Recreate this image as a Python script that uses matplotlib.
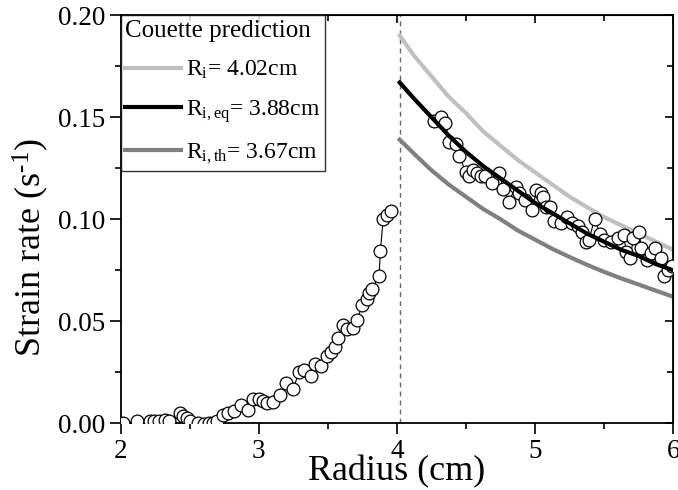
import matplotlib
matplotlib.use("Agg")
import matplotlib.pyplot as plt
from matplotlib.ticker import MultipleLocator

plt.rcParams["font.family"] = ["Liberation Serif", "DejaVu Serif"]
plt.rcParams["mathtext.fontset"] = "custom"
plt.rcParams["mathtext.rm"] = "Liberation Serif"
plt.rcParams["mathtext.it"] = "Liberation Serif:italic"

# measured strain rate, inner region (r < Ri)
r_in = [2.02, 2.12, 2.21, 2.24, 2.28, 2.32, 2.35, 2.43, 2.45, 2.48, 2.50,
        2.56, 2.60, 2.64, 2.67, 2.70, 2.74, 2.78, 2.82, 2.87, 2.92, 2.96,
        3.00, 3.03, 3.06, 3.10, 3.15, 3.20, 3.25, 3.29, 3.33, 3.38, 3.41,
        3.45, 3.49, 3.52, 3.55, 3.57, 3.61, 3.64, 3.68, 3.71, 3.75, 3.78,
        3.80, 3.82, 3.87, 3.88, 3.90, 3.93, 3.96]
g_in = [0.000, 0.0013, 0.001, 0.001, 0.0012, 0.0017, 0.0013, 0.005, 0.0037,
        0.0025, 0.0013, 0.000, -0.0005, 0.000, 0.000, 0.001, 0.004, 0.005,
        0.006, 0.009, 0.0065, 0.012, 0.012, 0.011, 0.010, 0.0106, 0.014,
        0.0196, 0.017, 0.025, 0.026, 0.023, 0.029, 0.028, 0.033, 0.035,
        0.0375, 0.042, 0.048, 0.046, 0.0466, 0.0506, 0.058, 0.061, 0.064,
        0.066, 0.072, 0.0846, 0.100, 0.102, 0.104]

# measured strain rate, outer region (r > Ri)
r_out = [4.27, 4.32, 4.35, 4.38, 4.43, 4.45, 4.50, 4.52, 4.55, 4.58, 4.61,
         4.64, 4.69, 4.74, 4.77, 4.81, 4.86, 4.88, 4.93, 4.98, 5.01, 5.04,
         5.06, 5.08, 5.11, 5.14, 5.19, 5.23, 5.27, 5.31, 5.34, 5.37, 5.39,
         5.43, 5.47, 5.50, 5.55, 5.60, 5.64, 5.66, 5.69, 5.71, 5.75, 5.77,
         5.81, 5.84, 5.87, 5.91, 5.93, 5.96, 5.99]
g_out = [0.148, 0.150, 0.147, 0.138, 0.137, 0.131, 0.123, 0.121, 0.124,
         0.1225, 0.121, 0.121, 0.118, 0.1225, 0.115, 0.1086, 0.116, 0.1127,
         0.1095, 0.1046, 0.1144, 0.113, 0.111, 0.106, 0.106, 0.099, 0.098,
         0.101, 0.098, 0.0967, 0.094, 0.089, 0.090, 0.100, 0.093, 0.090,
         0.089, 0.091, 0.0925, 0.084, 0.081, 0.0906, 0.094, 0.086, 0.080,
         0.0835, 0.086, 0.081, 0.072, 0.075, 0.077]

# Couette predictions
r_pred = [4.02, 4.125, 4.25, 4.375, 4.5, 4.625, 4.75, 4.875, 5.0,
          5.125, 5.25, 5.375, 5.5, 5.625, 5.75, 5.875, 6.0]
pred_ri = [0.190, 0.180, 0.170, 0.160, 0.152, 0.143, 0.136, 0.129, 0.123,
           0.117, 0.111, 0.106, 0.101, 0.097, 0.093, 0.089, 0.085]
pred_eq = [0.167, 0.159, 0.150, 0.141, 0.133, 0.126, 0.120, 0.114, 0.108,
           0.103, 0.098, 0.093, 0.089, 0.085, 0.082, 0.078, 0.075]
pred_th = [0.139, 0.132, 0.124, 0.117, 0.111, 0.105, 0.100, 0.0945, 0.090,
           0.0855, 0.0815, 0.0777, 0.0742, 0.071, 0.068, 0.065, 0.062]
r_i = 4.02

fig = plt.figure(figsize=(6.78, 4.90), dpi=100)
ax = fig.add_axes([0.178, 0.136, 0.815, 0.833])

ax.axvline(r_i, color="#666666", lw=1.0, ls=(0, (3.5, 3)), zorder=1)

mk = dict(marker="o", ms=9.2, mfc="white", mec="black", mew=0.9,
          color="black", lw=0.8)
ax.plot(r_in, g_in, zorder=3, **mk)
ax.plot(r_out, g_out, zorder=3, **mk)

ax.plot(r_pred, pred_ri, color="#c0c0c0", lw=3.0, zorder=2,
        label=r"R$_{\rm i}$= 4.02cm")
ax.plot(r_pred, pred_eq, color="black", lw=3.0, zorder=4,
        label=r"R$_{\rm i,eq}$= 3.88cm")
ax.plot(r_pred, pred_th, color="#808080", lw=3.0, zorder=2,
        label=r"R$_{\rm i,th}$= 3.67cm")

ax.set_xlim(2, 6)
ax.set_ylim(0, 0.20)
ax.xaxis.set_major_locator(MultipleLocator(1))
ax.xaxis.set_minor_locator(MultipleLocator(0.5))
ax.yaxis.set_major_locator(MultipleLocator(0.05))
ax.yaxis.set_minor_locator(MultipleLocator(0.025))
ax.yaxis.set_major_formatter(plt.FormatStrFormatter("%.2f"))
ax.tick_params(which="both", direction="out", labelsize=19.5, width=1.2,
               pad=3)
ax.tick_params(which="major", length=8)
ax.tick_params(which="minor", length=4)
for s in ax.spines.values():
    s.set_linewidth(1.3)

# mirrored ticks on top and right, pointing inward
secx = ax.secondary_xaxis("top")
secx.xaxis.set_major_locator(MultipleLocator(1))
secx.xaxis.set_minor_locator(MultipleLocator(0.5))
secx.tick_params(which="both", direction="in", labeltop=False, width=1.2)
secx.tick_params(which="major", length=6)
secx.tick_params(which="minor", length=4)
secy = ax.secondary_yaxis("right")
secy.yaxis.set_major_locator(MultipleLocator(0.05))
secy.yaxis.set_minor_locator(MultipleLocator(0.025))
secy.tick_params(which="both", direction="in", labelright=False, width=1.2)
secy.tick_params(which="major", length=6)
secy.tick_params(which="minor", length=4)

ax.set_xlabel("Radius (cm)", fontsize=26, labelpad=-6)
ax.set_ylabel("Strain rate (s$^{\\rm \u20101}$)", fontsize=26)
ax.yaxis.set_label_coords(-0.127, 0.43)

leg = ax.legend(loc="upper left", title="Couette prediction", fontsize=17,
                title_fontsize=18, frameon=True, fancybox=False,
                edgecolor="black", borderaxespad=0.0, handlelength=2.35,
                handletextpad=0.2, borderpad=0.2, labelspacing=0.72,
                alignment="left")
leg.get_frame().set_linewidth(1.0)
leg.set_zorder(5)

fig.savefig("out.png", dpi=100, facecolor="white")
